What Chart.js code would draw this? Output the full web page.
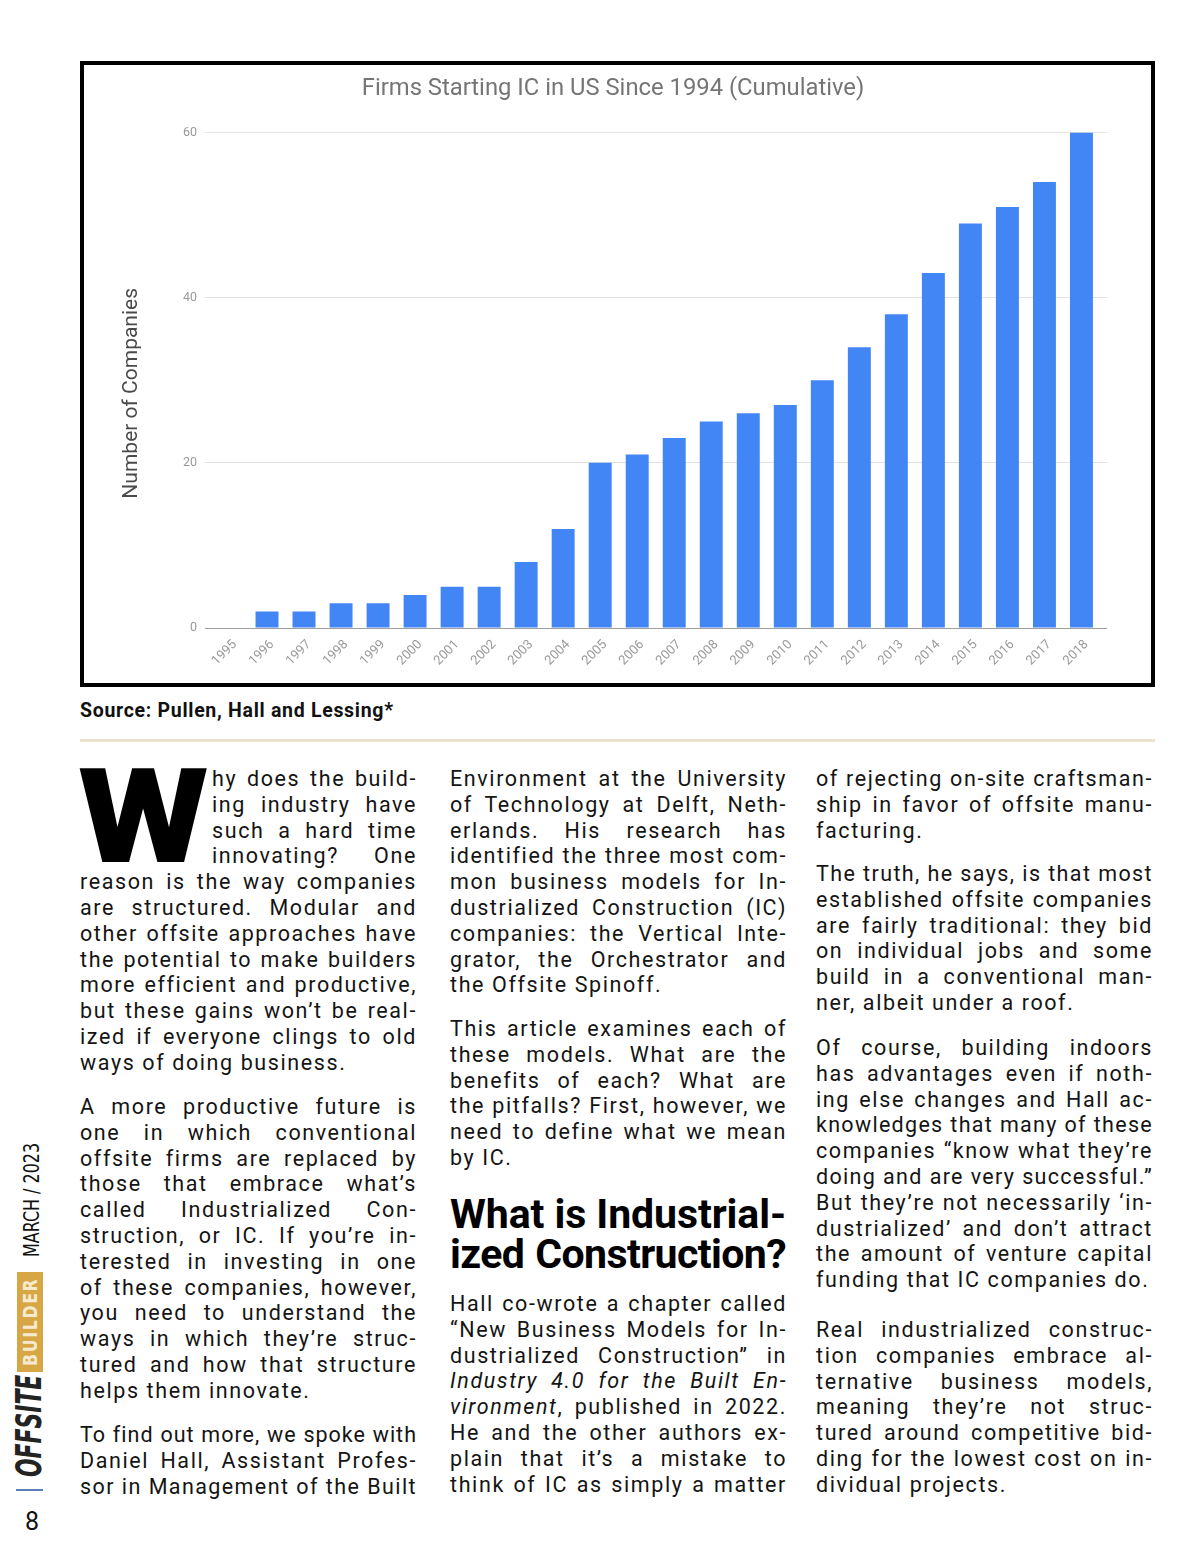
<!DOCTYPE html>
<html>
<head>
<meta charset="utf-8">
<title>Firms Starting IC in US Since 1994</title>
<script src="https://cdn.jsdelivr.net/npm/chart.js@4.4.0/dist/chart.umd.min.js"></script>
<style>
html, body { margin: 0; padding: 0; background: #fff; }
body { width: 1200px; height: 1558px; position: relative; overflow: hidden; font-family: 'Roboto', 'Liberation Sans', sans-serif; color: #141414; }
#chart-box { position: absolute; left: 80px; top: 61px; width: 1067px; height: 618px; border: 4px solid #000; background: #fff; }
#chart-box canvas { display: block; }
.source { position: absolute; left: 80px; top: 700px; font: 700 19.5px/22px 'Roboto', sans-serif; letter-spacing: 0.7px; color: #111; }
.rule { position: absolute; left: 80px; top: 739px; width: 1075px; height: 3px; background: #ede3cd; }
.para { position: absolute; width: 337px; }
.line { height: 25.8px; line-height: 25.8px; font-size: 21.5px; letter-spacing: 1.6px; text-align: justify; text-align-last: justify; }
.line.last { text-align: left; text-align-last: left; }
.line.indent { margin-left: 132px; }
.dropcap { position: absolute; left: 78px; top: 751px; font: 900 132px/1 'Roboto', sans-serif; color: #000; transform-origin: 0 0; transform: scaleX(1.14); }
.heading { position: absolute; left: 450px; top: 1194px; width: 336px; }
.heading div { height: 40px; line-height: 40px; font: 700 41px/40px 'Roboto', sans-serif; color: #000; text-align: justify; text-align-last: justify; letter-spacing: 0; }
#side { position: absolute; left: 17px; top: 1477px; width: 340px; height: 27px; transform-origin: 0 0; transform: rotate(-90deg); }
#side span { position: absolute; white-space: nowrap; transform-origin: 0 50%; }
.off { left: 0; top: -6px; font: italic 900 36px/36px 'DejaVu Sans Condensed', 'Liberation Sans Narrow', 'DejaVu Sans', sans-serif; color: #232323; }
.bldbox { position: absolute; left: 105px; top: 0; width: 100px; height: 26px; background: #d7a746; }
.bld { left: 111px; top: 2px; font: 700 19px/22px 'DejaVu Sans', sans-serif; letter-spacing: 2px; color: #f6ebcf; }
.mar { left: 220px; top: 4px; font: 500 21px/22px 'Liberation Sans Narrow', 'DejaVu Sans Condensed', 'Roboto', sans-serif; color: #111; }
.dash { position: absolute; left: 16px; top: 1489px; width: 27px; height: 2px; background: #5b7fb4; }
.pg { position: absolute; left: 25px; top: 1508px; font: 400 25px/28px 'Liberation Sans Narrow', 'Roboto', sans-serif; color: #111; }
</style>
</head>
<body>

<div id="chart-box"><canvas id="chart" width="1067" height="618"></canvas></div>
<div class="source">Source: Pullen, Hall and Lessing*</div>
<div class="rule"></div>

<div class="dropcap">W</div>
<div id="text"></div>
<div class="heading"><div>What is Industrial-</div><div>ized Construction?</div></div>

<div id="side">
  <span class="off" data-w="102">OFFSITE</span>
  <div class="bldbox"></div>
  <span class="bld" data-w="88">BUILDER</span>
  <span class="mar" data-w="114">MARCH / 2023</span>
</div>
<div class="dash"></div>
<div class="pg">8</div>

<script>
// Datos del gráfico
const years = ['1995', '1996', '1997', '1998', '1999', '2000', '2001', '2002', '2003', '2004', '2005', '2006',
               '2007', '2008', '2009', '2010', '2011', '2012', '2013', '2014', '2015', '2016', '2017', '2018'];
const companies = [0, 2, 2, 3, 3, 4, 5, 5, 8, 12, 20, 21, 23, 25, 26, 27, 30, 34, 38, 43, 49, 51, 54, 60];
const yTicks = [0, 20, 40, 60];

// Texto del artículo (una entrada por línea, como en la página)
const paragraphs = [
    { x: 80, y: 766, end: true, indent: 4, lines: [
        'hy does the build-', 'ing industry have', 'such a hard time', 'innovating?  One',
        'reason is the way companies', 'are structured. Modular and', 'other offsite approaches have',
        'the potential to make builders', 'more efficient and productive,', 'but these gains won’t be real-',
        'ized if everyone clings to old', 'ways of doing business.'] },
    { x: 80, y: 1094, end: true, lines: [
        'A more productive future is', 'one in which conventional', 'offsite firms are replaced by',
        'those that embrace what’s', 'called Industrialized Con-', 'struction, or IC. If you’re in-',
        'terested in investing in one', 'of these companies, however,', 'you need to understand the',
        'ways in which they’re struc-', 'tured and how that structure', 'helps them innovate.'] },
    { x: 80, y: 1422, end: false, lines: [
        'To find out more, we spoke with', 'Daniel Hall, Assistant Profes-', 'sor in Management of the Built'] },
    { x: 450, y: 766, end: true, lines: [
        'Environment at the University', 'of Technology at Delft, Neth-', 'erlands. His research has',
        'identified the three most com-', 'mon business models for In-', 'dustrialized Construction (IC)',
        'companies: the Vertical Inte-', 'grator, the Orchestrator and', 'the Offsite Spinoff.'] },
    { x: 450, y: 1016, end: true, lines: [
        'This article examines each of', 'these models. What are the', 'benefits of each? What are',
        'the pitfalls? First, however, we', 'need to define what we mean', 'by IC.'] },
    { x: 450, y: 1291, end: false, lines: [
        'Hall co-wrote a chapter called', '“New Business Models for In-', 'dustrialized Construction” in',
        '<i>Industry 4.0 for the Built En-</i>', '<i>vironment</i>, published in 2022.',
        'He and the other authors ex-', 'plain that it’s a mistake to', 'think of IC as simply a matter'] },
    { x: 816, y: 766, end: true, lines: [
        'of rejecting on-site craftsman-', 'ship in favor of offsite manu-', 'facturing.'] },
    { x: 816, y: 861, end: true, lines: [
        'The truth, he says, is that most', 'established offsite companies', 'are fairly traditional: they bid',
        'on individual jobs and some', 'build in a conventional man-', 'ner, albeit under a roof.'] },
    { x: 816, y: 1035, end: true, lines: [
        'Of course, building indoors', 'has advantages even if noth-', 'ing else changes and Hall ac-',
        'knowledges that many of these', 'companies “know what they’re', 'doing and are very successful.”',
        'But they’re not necessarily ‘in-', 'dustrialized’ and don’t attract', 'the amount of venture capital',
        'funding that IC companies do.'] },
    { x: 816, y: 1317, end: true, lines: [
        'Real industrialized construc-', 'tion companies embrace al-', 'ternative business models,',
        'meaning they’re not struc-', 'tured around competitive bid-', 'ding for the lowest cost on in-',
        'dividual projects.'] }
];

// Construir el texto
const textRoot = document.getElementById('text');
paragraphs.forEach(p => {
    const div = document.createElement('div');
    div.className = 'para';
    div.style.left = p.x + 'px';
    div.style.top = p.y + 'px';
    p.lines.forEach((txt, i) => {
        const line = document.createElement('div');
        line.className = 'line';
        if (p.indent && i < p.indent) line.classList.add('indent');
        if (p.end && i === p.lines.length - 1) line.classList.add('last');
        line.innerHTML = txt;
        div.appendChild(line);
    });
    textRoot.appendChild(div);
});

// Ajustar líneas que no caben en una sola fila
function fitLines(selector, maxH, start) {
    document.querySelectorAll(selector).forEach(el => {
        let ls = start;
        while (el.scrollHeight > maxH && ls > -3) {
            ls -= 0.1;
            el.style.letterSpacing = ls.toFixed(2) + 'px';
        }
    });
}
fitLines('.line', 30, 1.6);
fitLines('.heading div', 45, 0);

// Escalar textos del lateral al ancho deseado
document.querySelectorAll('#side span').forEach(el => {
    const w = +el.dataset.w;
    el.style.transform = `scaleX(${w / el.scrollWidth})`;
});

// Gráfico
Chart.defaults.font.family = 'Roboto';
const ctx = document.getElementById('chart');
const chart = new Chart(ctx, {
    type: 'bar',
    data: {
        datasets: [{
            data: years.map((y, i) => ({ x: +y, y: companies[i] })),
            backgroundColor: '#4285f4',
            borderWidth: 0,
            barPercentage: 0.62,
            categoryPercentage: 1
        }]
    },
    options: {
        responsive: false,
        animation: false,
        layout: { padding: { left: 35, right: 44, top: 0, bottom: 0 } },
        plugins: {
            legend: { display: false },
            tooltip: { enabled: false },
            title: {
                display: true,
                text: 'Firms Starting IC in US Since 1994 (Cumulative)',
                color: '#757575',
                font: { size: 23.8, weight: 'normal' },
                padding: { top: 10, bottom: 29 }
            }
        },
        scales: {
            x: {
                type: 'linear',
                offset: false,
                min: 1994.325,
                max: 2018.69,
                grid: { display: false, offset: false },
                border: { display: false },
                afterBuildTicks: s => { s.ticks = years.map(y => ({ value: +y })); },
                afterFit: s => { s.height = 55; },
                ticks: {
                    autoSkip: false,
                    minRotation: 45,
                    maxRotation: 45,
                    padding: 1,
                    labelOffset: 5,
                    color: '#9a9a9a',
                    font: { size: 13 },
                    callback: v => String(v)
                }
            },
            y: {
                min: 0,
                max: 60,
                afterBuildTicks: s => { s.ticks = yTicks.map(v => ({ value: v })); },
                afterFit: s => { s.width = 86; },
                grid: {
                    drawTicks: false,
                    color: c => c.tick && c.tick.value === 0 ? '#9e9e9e' : '#e2e2e2'
                },
                border: { display: false },
                ticks: { padding: 8, color: '#9a9a9a', font: { size: 12.5 } },
                title: {
                    display: true,
                    text: 'Number of Companies' + '\u00a0'.repeat(5),
                    color: '#4a4a4a',
                    font: { size: 21 },
                    padding: { top: 0, bottom: 0 }
                }
            }
        }
    }
});
</script>
</body>
</html>
